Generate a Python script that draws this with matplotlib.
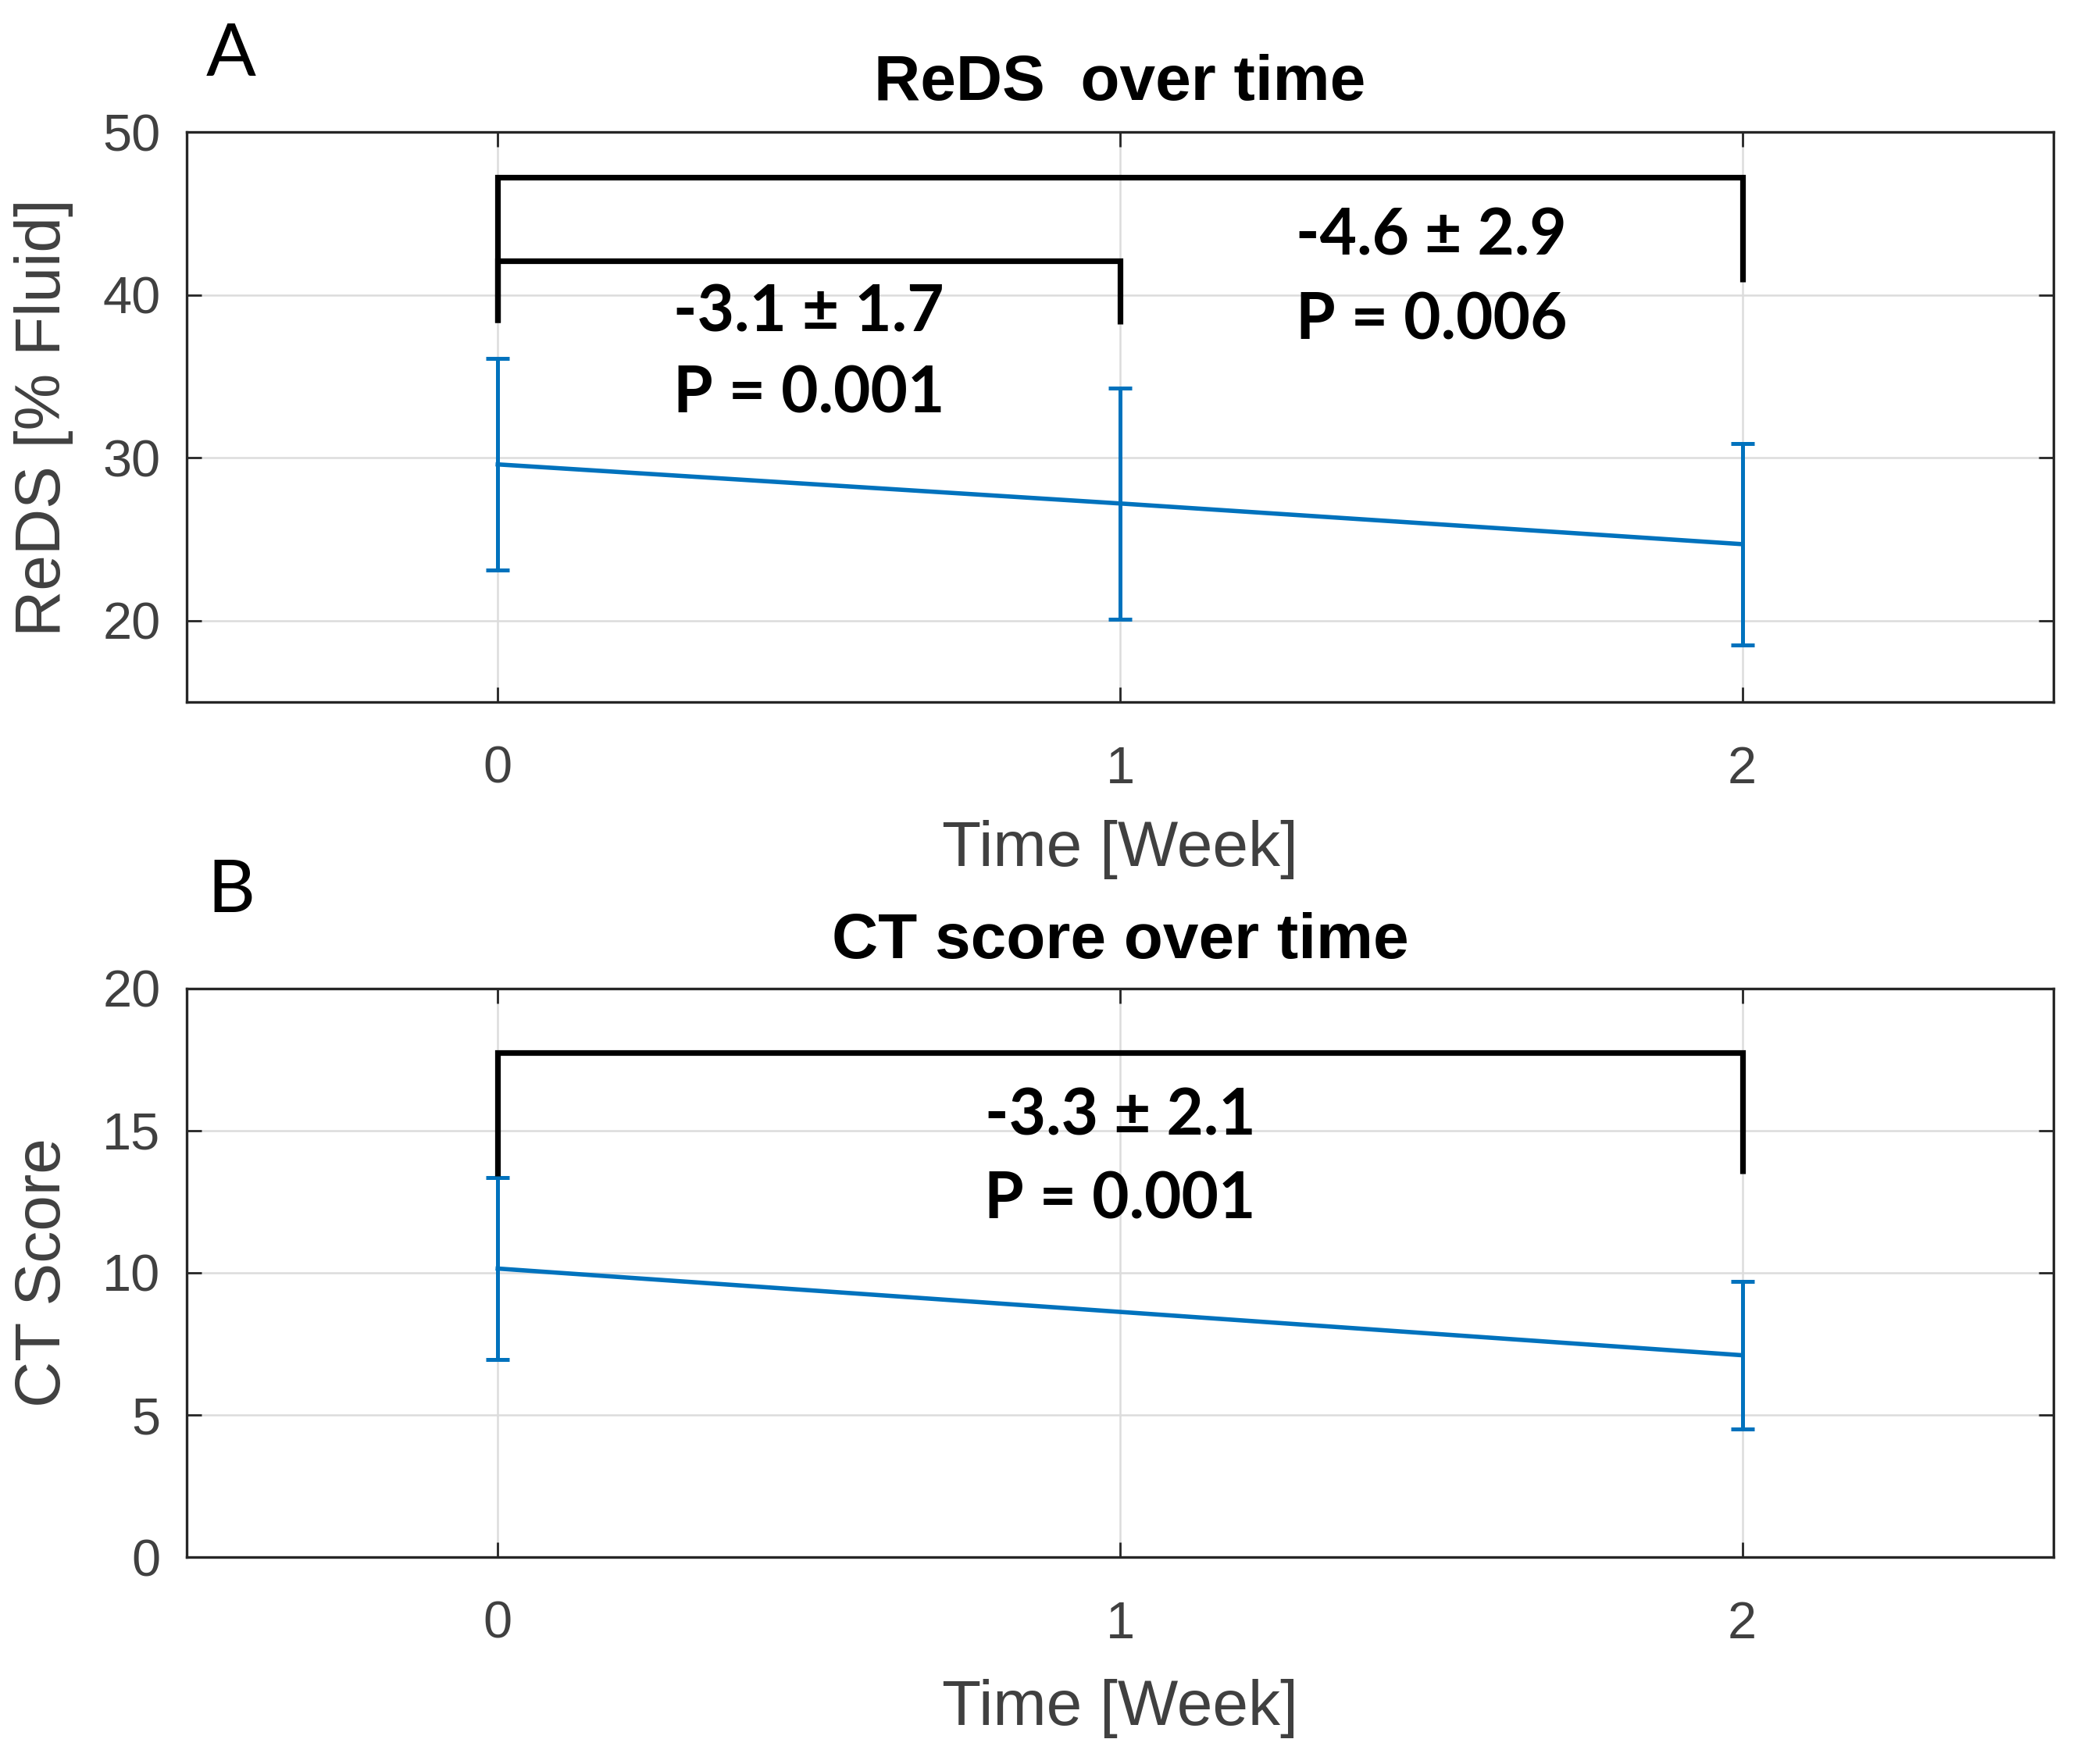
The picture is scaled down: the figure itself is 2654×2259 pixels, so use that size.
import matplotlib
matplotlib.use("Agg")
import matplotlib.pyplot as plt

# ---- data ----
weeks_reds = [0, 1, 2]
reds_mean = [29.6, 27.2, 24.7]
reds_err = [6.5, 7.1, 6.2]

weeks_ct = [0, 2]
ct_mean = [10.15, 7.1]
ct_err = [3.2, 2.6]

xticks = [0, 1, 2]
yticks_reds = [20, 30, 40, 50]
yticks_ct = [0, 5, 10, 15, 20]

# significance brackets: (x0, x1, y_top, y_left_end, y_right_end)
brackets_reds = [(0, 1, 42.1, 38.3, 38.2), (0, 2, 47.25, 38.3, 40.8)]
brackets_ct = [(0, 2, 17.75, 13.4, 13.5)]
# annotation texts: (x, y, text)
notes_reds = [(0.5, 38.9, "-3.1 ± 1.7"), (0.5, 33.9, "P = 0.001"),
              (1.5, 43.6, "-4.6 ± 2.9"), (1.5, 38.4, "P = 0.006")]
notes_ct = [(1.0, 15.5, "-3.3 ± 2.1"), (1.0, 12.55, "P = 0.001")]

BLUE = "#0072BD"
AXC = "#262626"
TXT = "#404040"

plt.rcParams['font.family'] = ['Liberation Sans', 'DejaVu Sans']

fig = plt.figure(figsize=(13.27, 11.295), dpi=200)
axA = fig.add_axes([0.090, 0.602, 0.9006, 0.323])
axB = fig.add_axes([0.090, 0.1173, 0.9006, 0.3223])


def style(ax, yticks, ylim, title, ylabel, xlab_y, tpad):
    ax.set_xlim(-0.5, 2.5)
    ax.set_ylim(*ylim)
    ax.set_xticks(xticks)
    ax.set_yticks(yticks)
    ax.grid(True, color="#dcdcdc", lw=0.9)
    ax.set_axisbelow(True)
    for s in ax.spines.values():
        s.set_color(AXC)
        s.set_linewidth(1.2)
    ax.tick_params(direction='in', length=7, width=1.0, color=AXC,
                   top=True, right=True, labelsize=24, labelcolor=TXT)
    ax.tick_params(axis='x', pad=20)
    ax.tick_params(axis='y', pad=12)
    ax.set_title(title, fontsize=29.5, fontweight='bold', color='black', pad=tpad)
    ax.set_ylabel(ylabel, fontsize=29.5, color=TXT, va='center')
    ax.yaxis.set_label_coords(-0.0766, 0.5)
    ax.set_xlabel("Time [Week]", fontsize=29.5, color=TXT, va='center')
    ax.xaxis.set_label_coords(0.5, xlab_y)


def draw(ax, x, m, e, brackets, notes):
    ax.errorbar(x, m, yerr=e, color=BLUE, lw=2.0, elinewidth=1.8,
                capsize=5.4, capthick=1.8, zorder=3)
    for (x0, x1, yt, yl, yr) in brackets:
        ax.plot([x0, x0, x1, x1], [yl, yt, yt, yr], color='black', lw=2.6,
                solid_joinstyle='miter', solid_capstyle='butt', zorder=4)
    for (tx, ty, t) in notes:
        ax.text(tx, ty, t, ha='center', va='center', fontsize=29.5,
                fontweight='bold', family=['Lato', 'DejaVu Sans'], color='black')


style(axA, yticks_reds, (15, 50), "ReDS  over time", "ReDS [% Fluid]", -0.259, 15)
draw(axA, weeks_reds, reds_mean, reds_err, brackets_reds, notes_reds)

style(axB, yticks_ct, (0, 20), "CT score over time", "CT Score", -0.266, 14)
draw(axB, weeks_ct, ct_mean, ct_err, brackets_ct, notes_ct)

fig.text(0.1116, 0.9686, "A", fontsize=34, ha='center', va='center',
         family=['Lato', 'DejaVu Sans'], color='black')
fig.text(0.1116, 0.4944, "B", fontsize=34, ha='center', va='center',
         family=['Lato', 'DejaVu Sans'], color='black')

fig.savefig("out.png", dpi=200, facecolor='white')
